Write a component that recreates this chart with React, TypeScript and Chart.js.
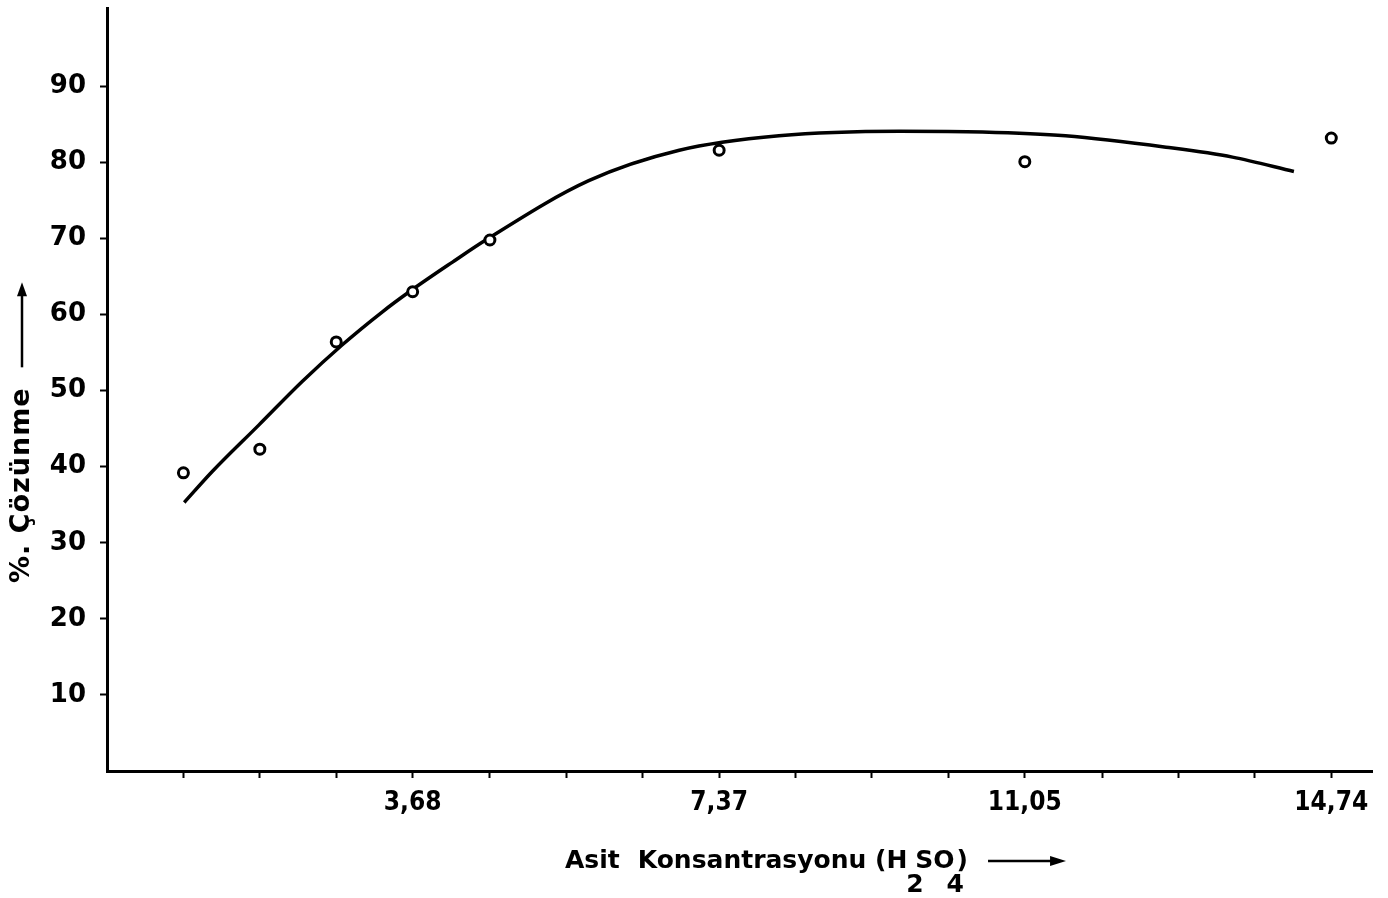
import React, { useEffect, useRef } from "react";
import { Chart, registerables } from "chart.js";

Chart.register(...registerables);

// Measured points (concentration of H2SO4, % dissolution)
const pointX = [0.92, 1.84, 2.76, 3.68, 4.61, 7.37, 11.05, 14.74];
const pointY = [39.2, 42.3, 56.4, 63.0, 69.8, 81.6, 80.1, 83.2];

// Hand-drawn fitted curve
const curveX = [0.93, 1.27, 1.83, 2.35, 2.83, 3.32, 3.64, 4.16, 4.56, 5.8, 6.89, 8.09, 9.54, 10.54, 11.54, 12.75, 13.55, 14.29];
const curveY = [35.3, 39.4, 45.5, 51.2, 56.0, 60.4, 63.0, 66.9, 69.8, 77.6, 81.6, 83.5, 84.1, 84.0, 83.5, 82.0, 80.7, 78.8];

// Axis ticks
const xTickValues = [0.92, 1.84, 2.76, 3.68, 4.61, 5.53, 6.45, 7.37, 8.29, 9.21, 10.13, 11.05, 11.98, 12.9, 13.82, 14.74];
const xLabeledValues = [3.68, 7.37, 11.05, 14.74];
const xLabelTexts = ["3,68", "7,37", "11,05", "14,74"];
const yTickValues = [10, 20, 30, 40, 50, 60, 70, 80, 90];

const xMin = 0;
const xMax = 15.23;
const yMin = 0;
const yMax = 100.3;

const yTitleText = "%. Çözünme";
const xTitleMain = ["Asit", "Konsantrasyonu (H"];
const xTitleSub1 = "2";
const xTitleMid = "SO";
const xTitleSub2 = "4";
const xTitleEnd = ")";

const FONT = '"DejaVu Sans", sans-serif';
const FONT_COND = '"DejaVu Sans Condensed", "DejaVu Sans", sans-serif';

const titlePlugin = {
  id: "axisTitles",
  afterDraw(chart: any) {
    const ctx = chart.ctx as CanvasRenderingContext2D;
    const area = chart.chartArea;
    ctx.save();
    ctx.fillStyle = "#000";
    ctx.strokeStyle = "#000";

    // ---- Y title (rotated) ----
    ctx.save();
    const cx = 22;
    const baseY = area.bottom - 188; // bottom end of text
    ctx.translate(cx, baseY);
    ctx.rotate(-Math.PI / 2);
    ctx.font = `bold 27px ${FONT}`;
    (ctx as any).letterSpacing = "1px";
    ctx.textAlign = "left";
    ctx.textBaseline = "middle";
    ctx.fillText(yTitleText, 0, 0);
    const tw = ctx.measureText(yTitleText).width;
    (ctx as any).letterSpacing = "0px";
    const a0 = tw + 20;
    const a1 = a0 + 85;
    ctx.lineWidth = 2.5;
    ctx.beginPath();
    ctx.moveTo(a0, 0);
    ctx.lineTo(a1 - 10, 0);
    ctx.stroke();
    ctx.beginPath();
    ctx.moveTo(a1, 0);
    ctx.lineTo(a1 - 14, -5);
    ctx.lineTo(a1 - 14, 5);
    ctx.closePath();
    ctx.fill();
    ctx.restore();

    // ---- X title ----
    ctx.font = `bold 25px ${FONT}`;
    ctx.textAlign = "left";
    ctx.textBaseline = "alphabetic";
    const baseline = area.bottom + 97;
    let x = area.left + 458;
    ctx.fillText(xTitleMain[0], x, baseline);
    x += ctx.measureText(xTitleMain[0]).width + 18;
    ctx.fillText(xTitleMain[1], x, baseline);
    x += ctx.measureText(xTitleMain[1]).width;
    ctx.fillText(xTitleSub1, x - 1, baseline + 24);
    x += 8;
    ctx.fillText(xTitleMid, x, baseline);
    x += ctx.measureText(xTitleMid).width;
    ctx.fillText(xTitleSub2, x - 8, baseline + 24);
    x += 2;
    ctx.fillText(xTitleEnd, x, baseline);
    x += ctx.measureText(xTitleEnd).width + 20;
    const ay = baseline - 7;
    ctx.lineWidth = 2.5;
    ctx.beginPath();
    ctx.moveTo(x, ay);
    ctx.lineTo(x + 66, ay);
    ctx.stroke();
    ctx.beginPath();
    ctx.moveTo(x + 78, ay);
    ctx.lineTo(x + 62, ay - 5);
    ctx.lineTo(x + 62, ay + 5);
    ctx.closePath();
    ctx.fill();

    ctx.restore();
  },
};

const whiteBg = {
  id: "whiteBg",
  beforeDraw(chart: any) {
    const ctx = chart.ctx as CanvasRenderingContext2D;
    ctx.save();
    ctx.fillStyle = "#fff";
    ctx.fillRect(0, 0, chart.width, chart.height);
    ctx.restore();
  },
};

export default function App() {
  const canvasRef = useRef<HTMLCanvasElement | null>(null);

  useEffect(() => {
    if (!canvasRef.current) return;
    const chart = new Chart(canvasRef.current, {
      type: "line",
      data: {
        datasets: [
          {
            label: "Deney",
            data: pointX.map((x, i) => ({ x, y: pointY[i] })),
            showLine: false,
            pointStyle: "circle",
            pointRadius: 5,
            pointBorderWidth: 3,
            pointBorderColor: "#000",
            pointBackgroundColor: "#fff",
            borderColor: "#000",
            backgroundColor: "#fff",
            order: 0,
          },
          {
            label: "Eğri",
            data: curveX.map((x, i) => ({ x, y: curveY[i] })),
            borderColor: "#000",
            borderWidth: 3.5,
            pointRadius: 0,
            fill: false,
            cubicInterpolationMode: "monotone",
            order: 1,
          },
        ],
      },
      options: {
        animation: false,
        responsive: true,
        maintainAspectRatio: false,
        layout: { padding: { top: 5, right: 16, left: 0, bottom: 0 } },
        plugins: {
          legend: { display: false },
          tooltip: { enabled: false },
          title: { display: false },
        },
        scales: {
          x: {
            type: "linear",
            min: xMin,
            max: xMax,
            afterBuildTicks: (scale: any) => {
              scale.ticks = xTickValues.map((v) => ({ value: v }));
            },
            afterFit: (scale: any) => {
              scale.height = 127;
              scale.paddingLeft = 0;
              scale.paddingRight = 0;
            },
            ticks: {
              autoSkip: false,
              maxRotation: 0,
              padding: 10,
              color: "#000",
              font: { family: FONT_COND, size: 26, weight: "bold" },
              callback: (value: any) => {
                const i = xLabeledValues.findIndex((v) => Math.abs(v - Number(value)) < 1e-6);
                return i >= 0 ? xLabelTexts[i] : "";
              },
            },
            grid: {
              display: true,
              drawOnChartArea: false,
              drawTicks: true,
              tickLength: 7,
              tickWidth: 2,
              tickColor: "#000",
              color: "#000",
            },
            border: { display: true, width: 3, color: "#000" },
          },
          y: {
            type: "linear",
            min: yMin,
            max: yMax,
            afterBuildTicks: (scale: any) => {
              scale.ticks = yTickValues.map((v) => ({ value: v }));
            },
            afterFit: (scale: any) => {
              scale.width = 107;
              scale.paddingTop = 0;
              scale.paddingBottom = 0;
            },
            ticks: {
              autoSkip: false,
              padding: 14,
              color: "#000",
              font: { family: FONT, size: 26, weight: "bold" },
              callback: (value: any) => String(value),
            },
            grid: {
              display: true,
              drawOnChartArea: false,
              drawTicks: true,
              tickLength: 7,
              tickWidth: 2,
              tickColor: "#000",
              color: "#000",
            },
            border: { display: true, width: 3, color: "#000" },
          },
        },
      },
      plugins: [whiteBg, titlePlugin],
    } as any);
    return () => chart.destroy();
  }, []);

  return (
    <div style={{ position: "absolute", left: 0, top: 0, width: 1388, height: 898, background: "#fff" }}>
      <canvas ref={canvasRef} />
    </div>
  );
}
